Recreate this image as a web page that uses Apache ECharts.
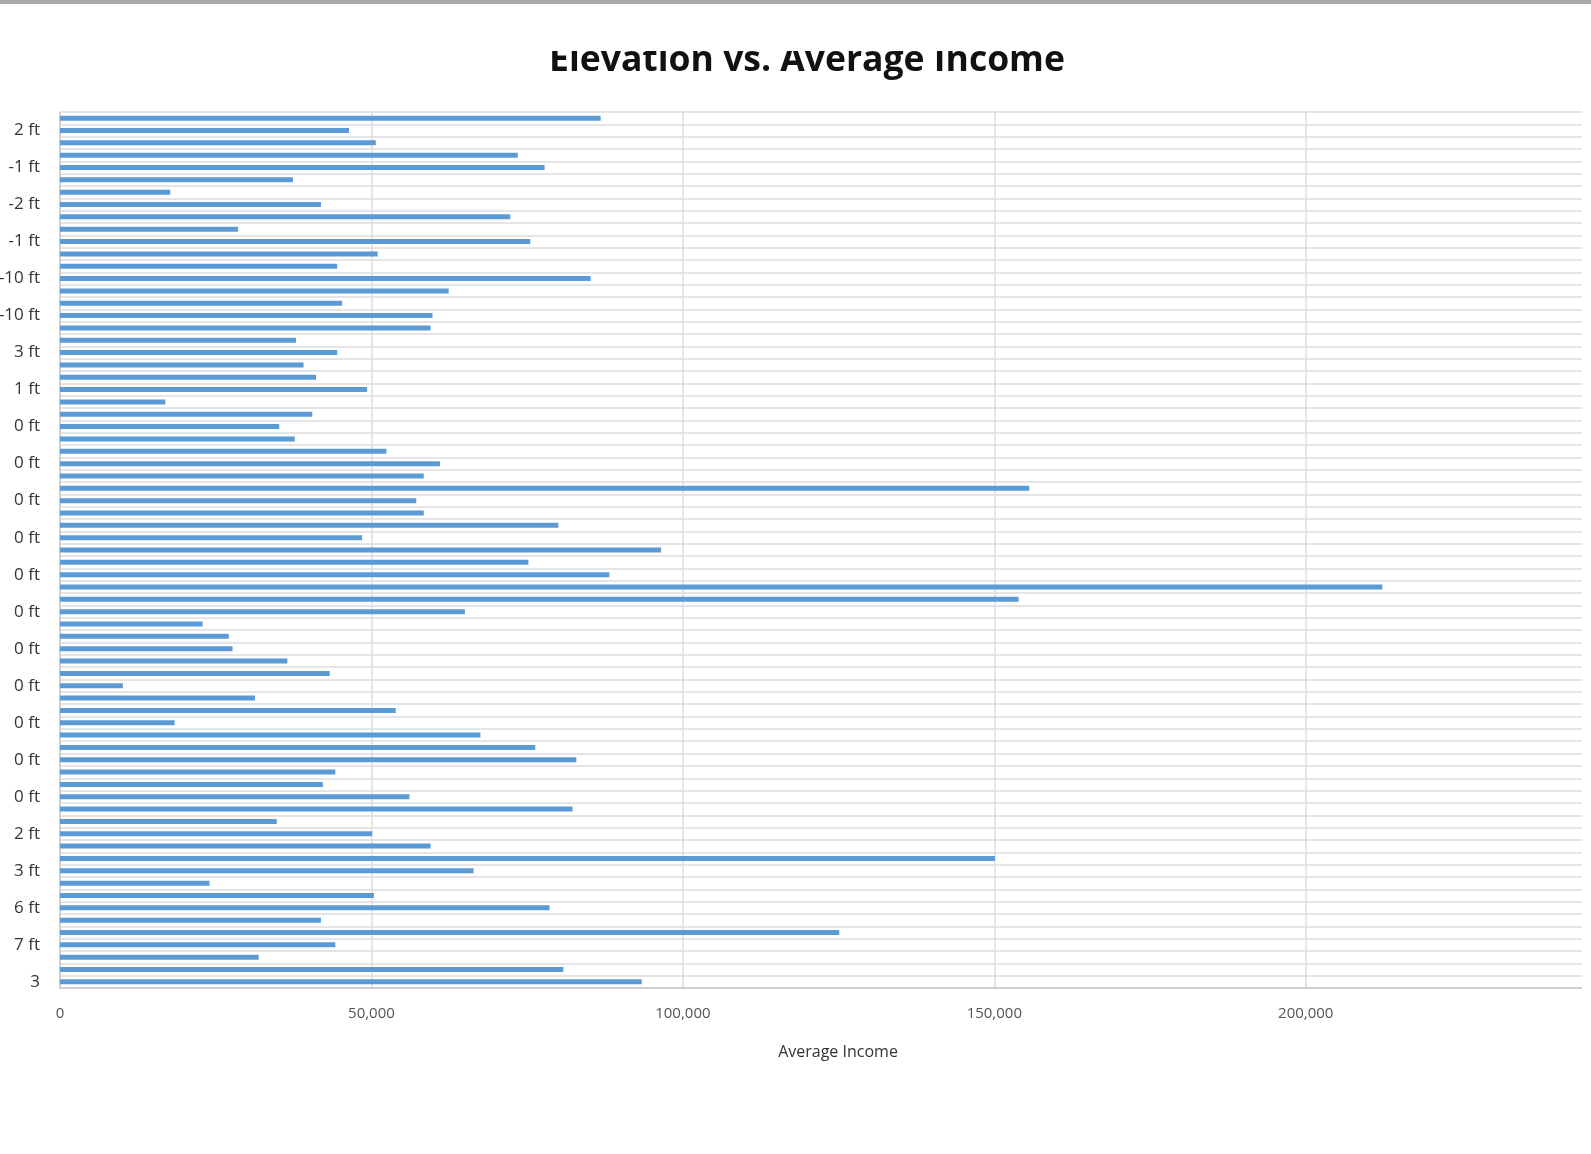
<!DOCTYPE html>
<html>
<head>
<meta charset="utf-8">
<script src="https://cdn.jsdelivr.net/npm/echarts@6/dist/echarts.min.js"></script>
<style>
  html, body { margin: 0; padding: 0; background: #fff; }
  #chart { width: 1591px; height: 1154px; }
</style>
</head>
<body>
<div id="chart"></div>
<script>
// rows listed top to bottom as they appear in the chart
// only every third elevation label is visible in the picture
const elevations = [
  '', '2 ft', '', '', '-1 ft', '', '', '-2 ft', '', '', '-1 ft', '', '', '-10 ft', '', '', '-10 ft', '',
  '', '3 ft', '', '', '1 ft', '', '', '0 ft', '', '', '0 ft', '', '', '0 ft', '', '', '0 ft', '',
  '', '0 ft', '', '', '0 ft', '', '', '0 ft', '', '', '0 ft', '', '', '0 ft', '', '', '0 ft', '',
  '', '0 ft', '', '', '2 ft', '', '', '3 ft', '', '', '6 ft', '', '', '7 ft', '', '', '3'
]

const avgIncome = [
  86800, 46400, 50700, 73500, 77800, 37400, 17700, 41900, 72300, 28600,
  75500, 51000, 44500, 85200, 62400, 45300, 59800, 59500, 37900, 44500,
  39100, 41100, 49300, 16900, 40500, 35200, 37700, 52400, 61000, 58400,
  155600, 57200, 58400, 80000, 48500, 96500, 75200, 88200, 212300, 153900,
  65000, 22900, 27100, 27700, 36500, 43300, 10100, 31300, 53900, 18400,
  67500, 76300, 82900, 44200, 42200, 56100, 82300, 34800, 50100, 59500,
  150100, 66400, 24000, 50400, 78600, 41900, 125100, 44200, 31900, 80800,
  93400
]

// the picture is cropped on the right, so the axis ends before 250,000
const X_MAX = 245800

const FONT = '"Open Sans", sans-serif'

const chart = echarts.init(document.getElementById('chart'))

const option = {
  backgroundColor: '#ffffff',
  animation: false,
  title: {
    text: 'Elevation vs. Average Income',
    left: 802,
    textAlign: 'center',
    top: 38,
    textStyle: {
      fontFamily: FONT,
      fontSize: 35.5,
      fontWeight: 'bold',
      color: '#111111'
    }
  },
  grid: {
    left: 60,
    right: 0,
    top: 112,
    bottom: 166,
    outerBoundsMode: 'none'
  },
  xAxis: {
    type: 'value',
    min: 0,
    max: X_MAX,
    interval: 50000,
    name: 'Average Income',
    nameLocation: 'middle',
    nameGap: 56,
    nameTextStyle: { fontFamily: FONT, fontSize: 16, color: '#333333', padding: [0, 0, 0, 25] },
    axisLine: { show: true, lineStyle: { color: '#c8c8c8', width: 1.5 } },
    axisTick: { show: false },
    axisLabel: {
      margin: 18,
      fontFamily: FONT,
      fontSize: 15,
      color: '#555555',
      showMaxLabel: false,
      formatter: v => v.toLocaleString('en-US')
    },
    splitLine: { show: true, lineStyle: { color: '#dcdcdc', width: 1.5 } }
  },
  yAxis: {
    type: 'category',
    inverse: true,
    data: elevations,
    axisLine: { show: true, lineStyle: { color: '#c8c8c8', width: 1.5 } },
    axisTick: { show: false },
    axisLabel: {
      interval: 0,
      margin: 20,
      fontFamily: FONT,
      fontSize: 17,
      color: '#333333'
    },
    splitLine: { show: true, interval: 0, lineStyle: { color: '#dcdcdc', width: 1.5 } }
  },
  series: [
    {
      type: 'bar',
      data: avgIncome,
      barWidth: 5,
      itemStyle: { color: '#5b9bd5' }
    }
  ],
  graphic: [
    // photo crop: title top is cut off, grey strip at top, white margin at right
    { type: 'rect', z: 100, shape: { x: 0, y: 0, width: 1591, height: 51 }, style: { fill: '#ffffff' } },
    { type: 'rect', z: 101, shape: { x: 0, y: 0, width: 1591, height: 4 }, style: { fill: '#a9a9a9' } },
    { type: 'rect', z: 100, shape: { x: 1582, y: 4, width: 20, height: 1150 }, style: { fill: '#ffffff' } }
  ]
}

chart.setOption(option)
</script>
</body>
</html>
